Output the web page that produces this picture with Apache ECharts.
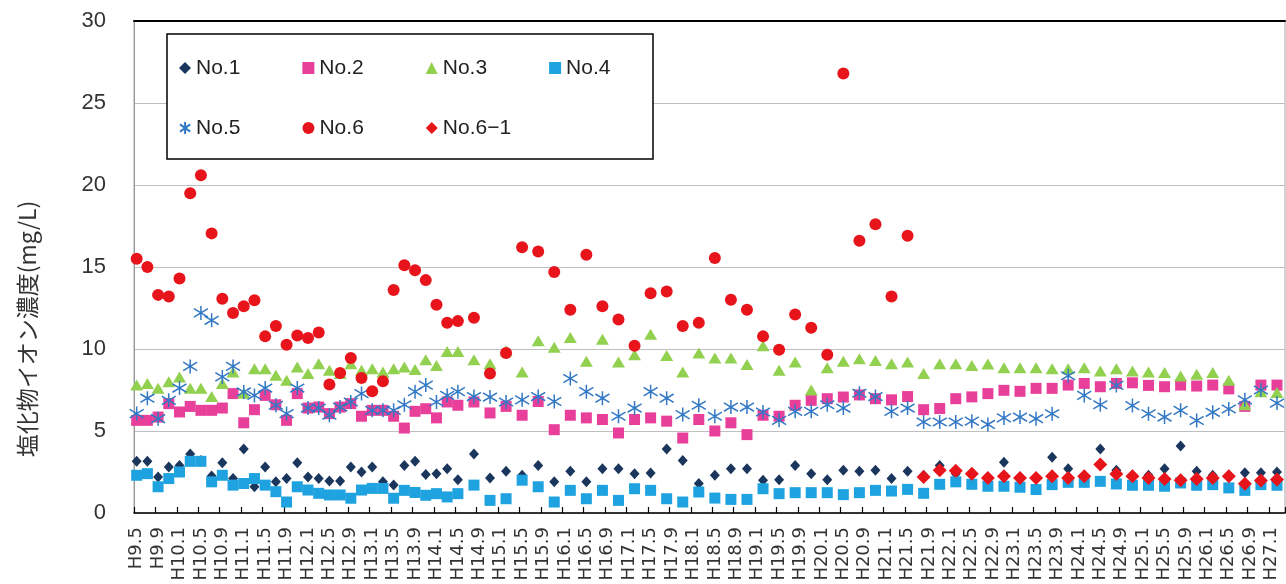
<!DOCTYPE html>
<html>
<head>
<meta charset="utf-8">
<script src="https://cdn.jsdelivr.net/npm/echarts@6/dist/echarts.min.js"></script>
<style>
html,body{margin:0;padding:0;background:#fff;}
#chart{width:1286px;height:584px;}
</style>
</head>
<body>
<div id="chart"></div>
<script>
// Sampling dates (Heisei year.month)
const datesA = ['H9.5','H9.7','H9.9','H9.11','H10.1','H10.3','H10.5','H10.7','H10.9','H10.11',
  'H11.1','H11.3','H11.5','H11.7','H11.9','H11.11','H12.1','H12.3','H12.5','H12.7',
  'H12.9','H12.11','H13.1','H13.3','H13.5','H13.7','H13.9','H13.11','H14.1','H14.3','H14.5',
  'H14.8','H14.11','H15.2','H15.5','H15.8','H15.11','H16.2','H16.5','H16.8','H16.11',
  'H17.2','H17.5','H17.8','H17.11','H18.2','H18.5','H18.8','H18.11','H19.2','H19.5',
  'H19.8','H19.11','H20.2','H20.5','H20.8','H20.11','H21.2','H21.5'];
const datesB = ['H21.8','H21.11','H22.2','H22.5','H22.8','H22.11','H23.2','H23.5','H23.8','H23.11',
  'H24.2','H24.5','H24.8','H24.11','H25.2','H25.5','H25.8','H25.11','H26.2','H26.5',
  'H26.8','H26.11','H27.2'];
const allDates = datesA.concat(datesB);

const no1 = [3.15,3.15,2.2,2.8,2.9,3.6,3.2,2.26,3.07,2.1,3.9,1.6,2.8,1.9,2.1,3.07,2.2,2.1,1.95,1.95,2.8,2.5,2.8,1.9,1.7,2.9,3.15,2.34,2.4,2.7,2.03,
  3.6,2.13,2.54,2.3,2.9,1.9,2.54,1.9,2.7,2.7,2.4,2.44,3.9,3.2,1.8,2.3,2.7,2.7,2.0,2.03,2.9,2.4,2.03,2.6,2.54,2.6,2.1,2.54,
  2.3,2.9,2.4,2.3,2.2,3.1,2.2,2.1,3.4,2.7,2.3,3.9,2.6,2.3,2.3,2.7,4.08,2.55,2.3,2.3,2.45,2.45,2.5];
const no2 = [5.65,5.65,5.85,6.67,6.16,6.5,6.26,6.26,6.4,7.28,5.5,6.3,7.17,6.6,5.65,7.28,6.4,6.46,6.06,6.46,6.67,5.9,6.26,6.26,5.9,5.18,6.2,6.36,5.8,6.77,6.57,
  6.77,6.1,6.5,5.96,6.8,5.08,5.96,5.8,5.7,4.88,5.7,5.8,5.6,4.57,5.7,5.0,5.5,4.78,5.96,5.9,6.57,6.87,6.97,7.07,7.2,6.97,6.9,7.1,
  6.3,6.37,6.97,7.08,7.28,7.48,7.42,7.6,7.6,7.8,7.9,7.7,7.9,7.94,7.78,7.7,7.8,7.74,7.8,7.57,6.5,7.8,7.8];
const no3 = [7.8,7.9,7.6,8.0,8.3,7.6,7.6,7.1,7.9,8.6,7.3,8.8,8.8,8.4,8.1,8.9,8.5,9.1,8.7,8.5,9.1,8.7,8.8,8.6,8.8,8.9,8.75,9.35,9.0,9.85,9.85,
  9.35,9.1,9.9,8.6,10.5,10.1,10.7,9.25,10.6,9.2,9.65,10.9,9.6,8.6,9.75,9.45,9.45,9.05,10.2,8.7,9.2,7.5,8.85,9.25,9.4,9.3,9.1,9.2,
  8.5,9.1,9.1,9.0,9.08,8.86,8.86,8.86,8.8,8.8,8.86,8.66,8.8,8.66,8.6,8.56,8.36,8.46,8.56,8.1,6.6,7.4,7.35];
const no4 = [2.3,2.4,1.6,2.1,2.5,3.15,3.15,1.9,2.3,1.7,1.8,2.1,1.7,1.3,0.67,1.6,1.4,1.2,1.1,1.1,0.9,1.4,1.5,1.5,0.9,1.38,1.25,1.08,1.18,0.98,1.18,
  1.7,0.77,0.87,2.0,1.6,0.67,1.38,0.87,1.38,0.77,1.48,1.38,0.87,0.67,1.28,0.91,0.83,0.83,1.48,1.18,1.24,1.24,1.24,1.12,1.24,1.38,1.34,1.44,
  1.2,1.75,1.9,1.75,1.63,1.63,1.57,1.43,1.73,1.87,1.87,1.93,1.77,1.69,1.69,1.63,1.83,1.69,1.73,1.53,1.38,1.73,1.69];
const no5 = [6.06,7.0,5.75,6.87,7.62,8.94,12.2,11.75,8.3,8.94,7.38,7.17,7.62,6.57,6.06,7.62,6.4,6.4,5.96,6.46,6.77,7.28,6.26,6.26,6.26,6.6,7.4,7.8,6.77,7.17,7.4,
  7.1,7.07,6.77,6.9,7.1,6.8,8.2,7.4,7.0,5.9,6.4,7.4,7.0,6.0,6.57,5.9,6.46,6.46,6.16,5.65,6.2,6.2,6.6,6.4,7.3,7.1,6.2,6.4,
  5.55,5.55,5.55,5.6,5.4,5.8,5.85,5.75,6.05,8.37,7.17,6.6,7.78,6.55,6.05,5.85,6.26,5.64,6.14,6.34,6.9,7.5,6.7];
const no6 = [15.5,15.0,13.3,13.2,14.3,19.5,20.6,17.05,13.07,12.2,12.6,12.97,10.77,11.4,10.26,10.83,10.67,11.0,7.83,8.54,9.45,8.23,7.42,8.03,13.6,15.1,14.8,14.2,12.7,11.6,11.7,
  11.9,8.5,9.75,16.2,15.95,14.7,12.4,15.75,12.6,11.8,10.2,13.4,13.5,11.4,11.6,15.55,13.0,12.4,10.77,9.96,12.1,11.3,9.65,26.8,16.6,17.6,13.2,16.9];
const no6_1 = [2.2,2.6,2.57,2.4,2.14,2.24,2.14,2.14,2.24,2.14,2.24,2.96,2.38,2.24,2.14,2.08,2.0,2.08,2.14,2.24,1.78,1.98,2.04];

const seriesNames = ['No.1','No.2','No.3','No.4','No.5','No.6','No.6\u22121'];
const yTicks = {min:0, max:30, interval:5};
const yTitle = '塩化物イオン濃度(mg/L)';

// monthly category axis from H9.5 to H27.3
const categories = [];
for (let m = 0; m <= 214; m++) {
  const t = m + 4;
  categories.push('H' + (9 + Math.floor(t / 12)) + '.' + (t % 12 + 1));
}

const pair = (dates, vals) => vals.map((v, i) => [dates[i], v]);
const starPath = 'path://M0,-10L0,10M-8.5,-6L8.5,6M-8.5,6L8.5,-6';

const chart = echarts.init(document.getElementById('chart'));
const mk = (name, data, symbol, size, color, extra) => Object.assign({
  name, type: 'scatter', data, symbol, symbolSize: size,
  itemStyle: {color, opacity: 1}, emphasis: {disabled: true}, silent: true
}, extra || {});

const legendCommon = {
  orient: 'horizontal', itemWidth: 12, itemHeight: 12, itemGap: 62, padding: 0,
  textStyle: {fontSize: 21, fontFamily: 'Liberation Sans', color: '#222', lineHeight: 24},
  selectedMode: false
};

chart.setOption({
  animation: false,
  backgroundColor: '#fff',
  grid: {left: 134, right: 1, top: 21, bottom: 71, show: true, borderColor: '#a6a6a6', borderWidth: 1, containLabel: false},
  legend: [
    Object.assign({data: seriesNames.slice(0, 4), left: 179, top: 56}, legendCommon),
    Object.assign({data: seriesNames.slice(4), left: 179, top: 116}, legendCommon)
  ],
  graphic: [
    {type: 'rect', z: 3, shape: {x: 167, y: 34, width: 486, height: 125},
     style: {fill: '#fff', stroke: '#000', lineWidth: 1.5}},
    {type: 'text', z: 3, x: 27, y: 329, rotation: Math.PI / 2,
     style: {text: yTitle, font: '23px "Noto Sans CJK JP"', fill: '#333', align: 'center', verticalAlign: 'middle'}}
  ],
  xAxis: [
    {type: 'category', data: categories, boundaryGap: true, position: 'bottom',
     axisLine: {lineStyle: {color: '#000', width: 1.5}},
     axisTick: {show: true, inside: true, length: 6, interval: 3, lineStyle: {color: '#000', width: 1.2}},
     axisLabel: {interval: 3, rotate: 90, margin: 14, fontSize: 18, fontFamily: 'DejaVu Sans', color: '#333'},
     splitLine: {show: false}},
    {type: 'category', data: categories, position: 'top', boundaryGap: true,
     axisLine: {show: true, lineStyle: {color: '#000', width: 2}},
     axisTick: {show: false}, axisLabel: {show: false}, splitLine: {show: false}}
  ],
  yAxis: {type: 'value', min: yTicks.min, max: yTicks.max, interval: yTicks.interval,
    axisLine: {show: true, lineStyle: {color: '#999', width: 1}},
    axisTick: {show: false},
    axisLabel: {fontSize: 22, fontFamily: 'Liberation Sans', color: '#333', margin: 28},
    splitLine: {show: true, lineStyle: {color: '#bfbfbf', width: 1.2}}},
  series: [
    mk(seriesNames[0], pair(allDates, no1), 'diamond', [10, 11], '#1B365D'),
    mk(seriesNames[1], pair(allDates, no2), 'rect', 11, '#E8409A'),
    mk(seriesNames[2], pair(allDates, no3), 'triangle', [13, 11], '#92D050'),
    mk(seriesNames[3], pair(allDates, no4), 'rect', 11, '#1EA3E0'),
    mk(seriesNames[4], pair(allDates, no5), starPath, 14, '#3278C4',
       {itemStyle: {color: '#3278C4', borderColor: '#3278C4', borderWidth: 1.5, opacity: 1}}),
    mk(seriesNames[5], pair(datesA, no6), 'circle', 12, '#E8141C'),
    mk(seriesNames[6], pair(datesB, no6_1), 'diamond', [14, 14], '#E8141C')
  ]
});
</script>
</body>
</html>
